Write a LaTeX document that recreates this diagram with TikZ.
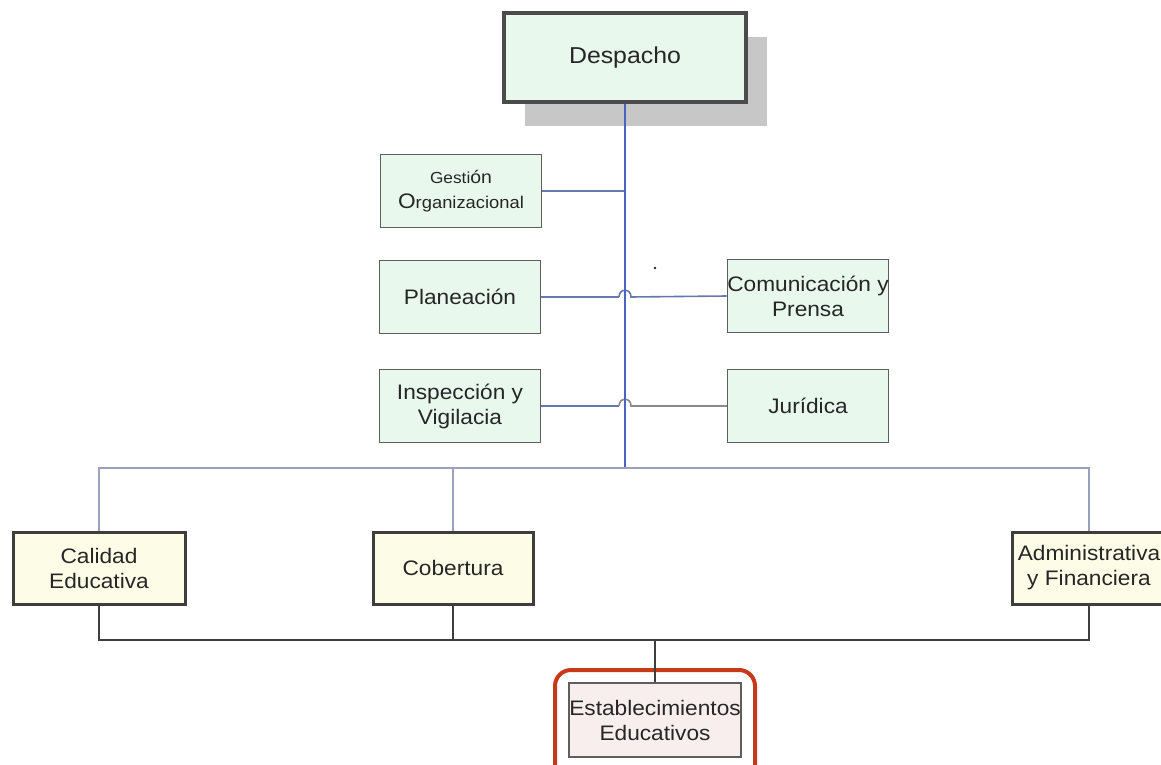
\documentclass[tikz,border=0pt]{standalone}
\usepackage{fontspec}
\setmainfont{Liberation Sans}[FakeStretch=1.08]
\usetikzlibrary{shadows}
\definecolor{mint}{HTML}{E9F8ED}
\definecolor{cream}{HTML}{FDFCE6}
\definecolor{rose}{HTML}{F8EEEE}
\definecolor{ink}{HTML}{262626}
\definecolor{boxgray}{HTML}{5E5E5E}
\definecolor{trunkblue}{HTML}{4A64C0}
\definecolor{linkblue}{HTML}{6578B0}
\definecolor{linkgray}{HTML}{8A8A8A}
\definecolor{busgray}{HTML}{9AA0BE}
\definecolor{basegray}{HTML}{3E3E3E}
\definecolor{mark}{HTML}{C8391A}
\begin{document}
\begin{tikzpicture}[x=1pt, y=-1pt,
	box/.style={align=center, text=ink, inner sep=0pt, font=\fontsize{21}{25}\selectfont},
	staff/.style={box, draw=boxgray, fill=mint, line width=1.5pt, minimum width=161pt, minimum height=73pt},
	area/.style={box, draw=basegray, fill=cream, line width=3pt, minimum width=170pt, minimum height=72pt},
	link/.style={draw=linkblue, line width=1.6pt},
	bus/.style={draw=busgray, line width=1.6pt}]
	\useasboundingbox (0,0) rectangle (1161,765);
	\node[box, draw=boxgray!80!black, fill=mint, line width=4pt, minimum width=242pt, minimum height=89pt,
		font=\fontsize{23}{27}\selectfont,
		drop shadow={shadow xshift=21pt, shadow yshift=-24pt, fill=black!22, opacity=1}] (despacho) at (625,58) {Despacho};
	\node[staff] (gestion) at (461,191) {{\fontsize{16}{25}\selectfont Gesti}{\fontsize{18}{25}\selectfont ón}\\O{\fontsize{17}{25}\selectfont rganizacional}};
	\node[staff] (planeacion) at (460,297) {Planeación};
	\node[staff] (inspeccion) at (460,406) {Inspección y\\Vigilacia};
	\node[staff] (comunicacion) at (808,296) {Comunicación y\\Prensa};
	\node[staff] (juridica) at (808,406) {Jurídica};
	\node[area, minimum width=172pt] (calidad) at (99,568) {Calidad\\Educativa};
	\node[area, minimum width=160pt] (cobertura) at (453,568) {Cobertura};
	\node[area, minimum width=154pt] (admin) at (1089,568) {Administrativa\\y Financiera};
	\node[box, draw=boxgray, fill=rose, line width=2pt, minimum width=172pt, minimum height=74pt] (establecimientos) at (655,720) {Establecimientos\\Educativos};
	\coordinate (hub) at (625,468);
	\coordinate (base) at (655,640);
	\draw[rounded corners=16pt, draw=mark, line width=4pt] (555,670) rectangle (755,790);
	\fill[ink] (655,268) circle (1.3pt);
	% staff lines
	\draw[link] (gestion.east) -- (gestion.east -| hub);
	\draw[link] (planeacion.east) -- (619,297);
	\draw[link] (619,297) .. controls (619,288) and (631,288) .. (631,297) -- (comunicacion.west);
	\draw[link] (inspeccion.east) -- (619,406);
	\draw[link, draw=linkgray] (619,406) .. controls (619,397) and (631,397) .. (631,406) -- (juridica.west);
	\draw[draw=trunkblue, line width=2pt] (despacho.south) -- (hub);
	% areas
	\draw[bus] (calidad.north) |- (hub) -| (admin.north);
	\draw[bus] (cobertura.north) -- (cobertura.north |- hub);
	\draw[draw=basegray, line width=2pt] (calidad.south) |- (base) -| (admin.south);
	\draw[draw=basegray, line width=2pt] (cobertura.south) -- (cobertura.south |- base);
	\draw[draw=basegray, line width=2pt] (establecimientos.north) -- (base);
\end{tikzpicture}
\end{document}
